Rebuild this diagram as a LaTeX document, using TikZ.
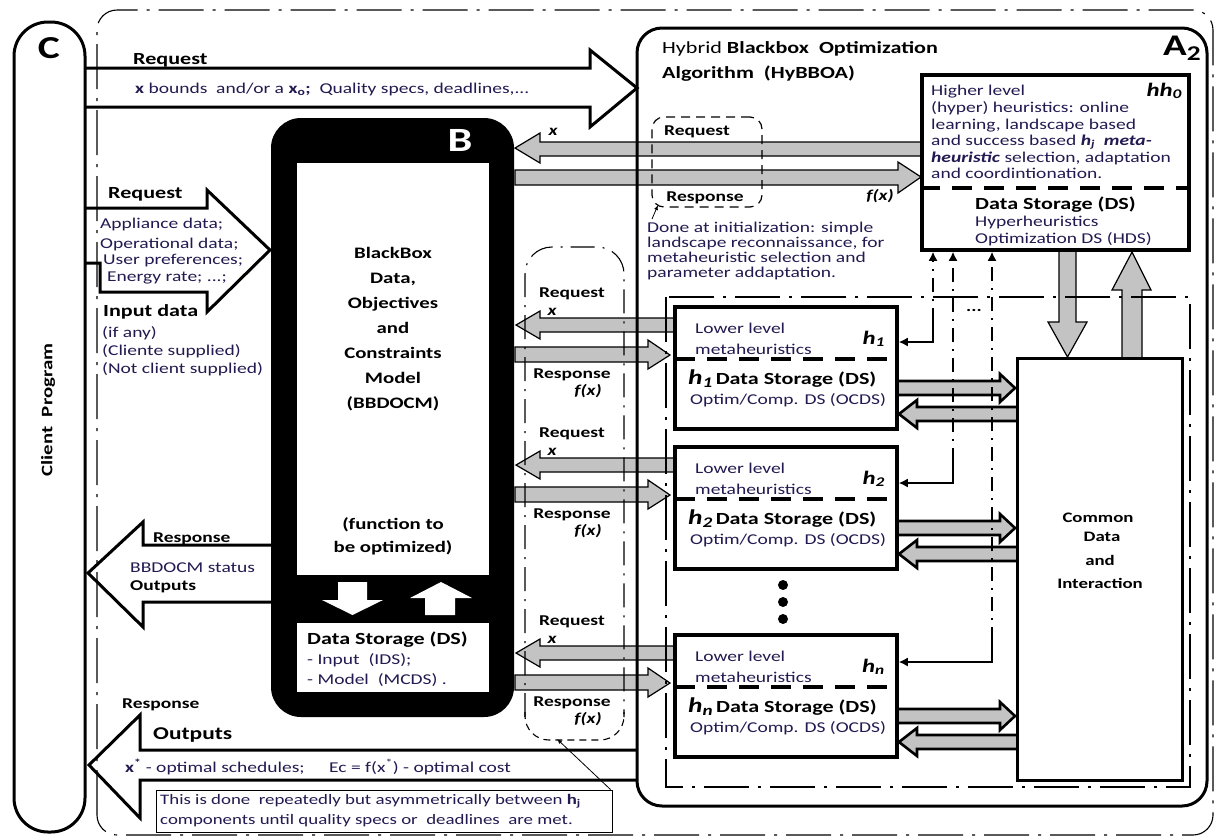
\documentclass[tikz,border=0pt]{standalone}
\usepackage{fontspec}
\setmainfont{Carlito}[FakeStretch=1.3]
\usetikzlibrary{arrows.meta}
\definecolor{ink}{HTML}{221A50}
\definecolor{blockgray}{HTML}{C3C3C3}
\newcommand\fsz[2]{\fontsize{#1}{#2}\selectfont}
\tikzset{
  txt/.style={inner sep=0pt, anchor=base west, text=ink, font=\fsz{15}{17}},
  btxt/.style={inner sep=0pt, anchor=base west, text=black, font=\bfseries\fsz{17}{19}},
  smb/.style={inner sep=0pt, anchor=base west, text=black, font=\bfseries\fsz{15}{17}},
  blbl/.style={inner sep=0pt, anchor=base, text=black, font=\bfseries\fsz{15}{17}},
  ilbl/.style={inner sep=0pt, anchor=base, text=black, font=\bfseries\itshape\fsz{15}{17}},
  ctxt/.style={inner sep=0pt, anchor=base, text=black, font=\bfseries\fsz{16}{18}},
  hollow/.style={draw=black, line width=3pt, line join=miter},
  grayarrow/.style={draw=black, line width=1.2pt, fill=blockgray, line join=miter},
  dblarrow/.style={draw=black, line width=2.6pt, fill=blockgray, line join=miter},
  heavybox/.style={draw=black, line width=3.5pt, inner sep=0pt, minimum width=222pt, minimum height=122pt},
  sepline/.style={line width=4pt, dash pattern=on 20pt off 12pt},
  framedd/.style={line width=1.1pt, dash pattern=on 45pt off 9pt on 3pt off 9pt},
  coldd/.style={line width=1.1pt, dash pattern=on 24pt off 8pt on 2pt off 8pt},
  linkdd/.style={line width=1.6pt, dash pattern=on 14pt off 7pt on 2pt off 7pt},
  linktip/.style={-{Latex[length=9pt,width=9pt]}},
  pointer/.style={line width=0.8pt, -{Latex[length=5pt,width=4pt]}},
}
\begin{document}
\begin{tikzpicture}[x=1pt,y=-1pt]
\useasboundingbox (0,0) rectangle (1214,836);
\fill[white] (0,0) rectangle (1214,836);

% ---------- outer dash-dotted frame ----------
\draw[framedd, rounded corners=20pt] (97,835) -- (97,10) -- (1213,10) -- (1213,835) -- cycle;

% ---------- client program ----------
\node[draw, line width=3pt, rounded corners=34pt, minimum width=71pt, minimum height=810pt, inner sep=0pt] (cbox) at (49.5,427) {};
\node[inner sep=0pt, font=\bfseries\fsz{32}{32}] (cletter) at (49,48) {C};
\node[inner sep=0pt, rotate=90, font=\bfseries\fsz{16}{16}] (client) at (48,410) {Client\ \ Program};

% ---------- hollow request / response arrows ----------
\draw[hollow] (85,68) -- (590,68) -- (590,50) -- (637,88) -- (590,127) -- (590,107) -- (85,107);
\node[btxt] (rq0) at (133,64) {Request};
\node[txt] (rq0t) at (135,93) {\textbf{x} bounds\ \ and/or a \textbf{x\textsubscript{o};}\ \ Quality specs, deadlines,...};

\draw[hollow] (85,208) -- (207,208) -- (207,190) -- (270,250) -- (207,312) -- (207,292) -- (100,292) -- (100,263) -- (85,263);
\node[btxt] (rq1) at (108,198) {Request};
\node[txt] (in1) at (100,228) {Appliance data;};
\node[txt] (in2) at (100,248) {Operational data;};
\node[txt] (in3) at (103,264) {User preferences;};
\node[txt] (in4) at (107,281) {Energy rate; ...;};
\node[btxt] (indata) at (103,316) {Input data};
\node[txt] (in5) at (102,337) {(if any)};
\node[txt] (in6) at (102,355) {(Cliente supplied)};
\node[txt] (in7) at (102,373) {(Not client supplied)};

\draw[hollow] (271,545) -- (143,545) -- (143,522) -- (88,573) -- (143,627) -- (143,602) -- (271,602);
\node[smb] (rs1) at (153,542) {Response};
\node[txt] (rs1a) at (130,572) {BBDOCM status};
\node[smb] (rs1b) at (130,590) {Outputs};

\draw[hollow] (637,750) -- (140,750) -- (140,715) -- (89,765) -- (140,818) -- (140,780) -- (637,780);
\node[smb] (rs2) at (122,708) {Response};
\node[inner sep=0pt, anchor=base west, font=\bfseries\fsz{18}{20}] (outs) at (153,739) {Outputs};
\node[txt] (xstar) at (125,772) {\textbf{x\textsuperscript{*}} - optimal schedules;};
\node[txt] (ecost) at (329,772) {Ec = f(x\textsuperscript{*}) - optimal cost};

\node[draw, line width=1pt, minimum width=456pt, minimum height=42pt, inner sep=0pt] (note) at (384,811) {};
\node[txt, font=\fsz{14.5}{16}] (note1) at (160,804) {This is done\ \ repeatedly but asymmetrically between \textbf{h\textsubscript{j}}};
\node[txt, font=\fsz{14.5}{16}] (note2) at (160,824) {components until quality specs or\ \ deadlines\ \ are met.};

% ---------- black-box model B ----------
\node[fill=black, rounded corners=30pt, minimum width=243pt, minimum height=599pt, inner sep=0pt] (bbox) at (392.5,417.5) {};
\node[fill=white, minimum width=192pt, minimum height=412pt, inner sep=0pt] (model) at (393,369) {};
\node[fill=white, minimum width=192pt, minimum height=69pt, inner sep=0pt] (bds) at (393,657.5) {};
\node[inner sep=0pt, text=white, font=\bfseries\fsz{34}{34}] (bletter) at (460,140) {B};
\fill[white] (338,582) -- (367,582) -- (367,600) -- (383,600) -- (352.5,615) -- (322,600) -- (338,600) -- cycle;
\fill[white] (441,582) -- (472,598) -- (455,598) -- (455,615) -- (425,615) -- (425,598) -- (410,598) -- cycle;
\node[ctxt] (m1) at (393,258) {BlackBox};
\node[ctxt] (m2) at (393,283) {Data,};
\node[ctxt] (m3) at (393,308) {Objectives};
\node[ctxt] (m4) at (393,333) {and};
\node[ctxt] (m5) at (393,358) {Constraints};
\node[ctxt] (m6) at (393,383) {Model};
\node[ctxt] (m7) at (393,408) {(BBDOCM)};
\node[ctxt] (m8) at (393,529) {(function to};
\node[ctxt] (m9) at (393,552) {be optimized)};
\node[btxt] (bds1) at (307,644) {Data Storage (DS)};
\node[txt] (bds2) at (307,664) {- Input\ \ (IDS);};
\node[txt] (bds3) at (307,684) {- Model\ \ (MCDS) .};

% ---------- grey request / response arrows ----------
\draw[grayarrow] (922,142) -- (540,142) -- (540,133) -- (515,148) -- (540,163) -- (540,156) -- (922,156) -- cycle;
\draw[grayarrow] (515,170) -- (898,170) -- (898,162) -- (921,177) -- (898,193) -- (898,185) -- (515,185) -- cycle;
\foreach \T in {307,447,635} {
  \draw[grayarrow] (675,\T+11) -- (540,\T+11) -- (540,\T+4) -- (516,\T+18) -- (540,\T+32) -- (540,\T+25) -- (675,\T+25) -- cycle;
  \draw[grayarrow] (515,\T+40) -- (648,\T+40) -- (648,\T+33) -- (670,\T+48) -- (648,\T+62) -- (648,\T+55) -- (515,\T+55) -- cycle;
  \draw[dblarrow] (897,\T+74) -- (1000,\T+74) -- (1000,\T+67) -- (1015,\T+81) -- (1000,\T+95) -- (1000,\T+88) -- (897,\T+88);
  \draw[dblarrow] (1017,\T+100) -- (917,\T+100) -- (917,\T+93) -- (899,\T+107) -- (917,\T+121) -- (917,\T+114) -- (1017,\T+114);
}
% hh0 <-> common data
\draw[grayarrow] (1059,250) -- (1059,322) -- (1048,322) -- (1067.5,357) -- (1087,322) -- (1076,322) -- (1076,250);
\draw[grayarrow] (1122,358) -- (1122,290) -- (1112,290) -- (1132,252) -- (1151,290) -- (1142,290) -- (1142,358);

% ---------- algorithm A2 frame ----------
\node[draw, line width=3pt, rounded corners=25pt, minimum width=570pt, minimum height=778pt, inner sep=0pt] (a2) at (922,417) {};
\node[inner sep=0pt, anchor=base west, font=\fsz{17}{19}] (hyb1) at (662,53) {Hybrid \textbf{Blackbox\ \ Optimization}};
\node[btxt] (hyb2) at (662,78) {Algorithm\ \ (HyBBOA)};
\node[inner sep=0pt, anchor=base west, font=\bfseries\fsz{30}{30}] (a2lbl) at (1163,55) {A\textsubscript{2}};

% column of request/response exchanges
\draw[coldd, rounded corners=27pt] (525,717) -- (525,247) -- (624,247) -- (624,717);
\draw[line width=1.1pt, dash pattern=on 7pt off 5pt, rounded corners=24pt] (525,712) -- (525,740) -- (624,740) -- (624,712);
\coordinate (colbot) at (557,739);

% lower level region
\draw[framedd] (666,297) rectangle (1190,787);

% initialization exchange
\node[draw, line width=1.2pt, dash pattern=on 9pt off 6pt, rounded corners=12pt, minimum width=110pt, minimum height=90pt, inner sep=0pt] (reqbox) at (707,162) {};
\node[blbl] (rqb1) at (697,135) {Request};
\node[blbl] (rqb2) at (705,201) {Response};
\node[ilbl] (xl0) at (553,135) {x};
\node[ilbl] (fx0) at (880,200) {f(x)};
\node[txt] (done1) at (647,232) {Done at initialization: simple};
\node[txt] (done2) at (647,247) {landscape reconnaissance, for};
\node[txt] (done3) at (647,262) {metaheuristic selection and};
\node[txt] (done4) at (647,277) {parameter addaptation.};
\coordinate (donept) at (652,219);
\coordinate (reqcorner) at (658,205);
\draw[pointer] (donept) -- (reqcorner);

% ---------- hyper-heuristic hh0 ----------
\node[heavybox, minimum width=267pt, minimum height=175pt] (hh0) at (1055.5,162.5) {};
\draw[sepline] (hh0.west |- 0,188) -- (hh0.east |- 0,188);
\node[inner sep=0pt, anchor=base east, font=\bfseries\itshape\fsz{19}{19}] (hh0lbl) at (1182,96) {hh\textsubscript{0}};
\node[txt] (hh1) at (931,95) {Higher level};
\node[txt] (hh2) at (931,112) {(hyper) heuristics: online};
\node[txt] (hh3) at (931,129) {learning, landscape based};
\node[txt] (hh4) at (931,145) {and success based \textbf{\textit{h\textsubscript{j}\ \ meta-}}};
\node[txt] (hh5) at (931,162) {\textbf{\textit{heuristic}} selection, adaptation};
\node[txt] (hh6) at (931,178) {and coordintionation.};
\node[btxt] (hds1) at (975,209) {Data Storage (DS)};
\node[txt] (hds2) at (975,226) {Hyperheuristics};
\node[txt] (hds3) at (975,243) {Optimization DS (HDS)};

% ---------- lower level metaheuristics ----------
\foreach \T/\s/\nm in {307/1/h1, 447/2/h2, 635/n/hn} {
  \node[heavybox] (box\nm) at (786,\T+61) {};
  \draw[sepline] (675,\T+52) -- (897,\T+52);
  \node[txt] (low\nm) at (695,\T+26) {Lower level};
  \node[txt] (meta\nm) at (695,\T+47) {metaheuristics};
  \node[inner sep=0pt, anchor=base east, font=\bfseries\itshape\fsz{19}{19}] (lbl\nm) at (885,\T+37) {h\textsubscript{\s}};
  \node[inner sep=0pt, anchor=base west] (ds\nm) at (688,\T+77) {{\bfseries\itshape\fsz{21}{21}h\textsubscript{\s}}\hspace{3pt}{\bfseries\fsz{17}{19}Data Storage (DS)}};
  \node[txt] (oc\nm) at (690,\T+97) {Optim/Comp. DS (OCDS)};
  \node[blbl] (rq\nm) at (572,\T-10) {Request};
  \node[ilbl] (x\nm) at (552,\T+8) {x};
  \node[blbl] (rp\nm) at (572,\T+71) {Response};
  \node[ilbl] (f\nm) at (588,\T+88) {f(x)};
}
\foreach \i in {1,2,3} \node[circle, fill=black, inner sep=0pt, minimum size=10pt] (dot\i) at (783,568+17*\i) {};

% links between hh0 and each metaheuristic
\coordinate (lk1) at (933,342); \coordinate (lk1t) at (933,322);
\coordinate (lk2) at (953,483); \coordinate (lk2t) at (953,462);
\coordinate (lk3) at (992,662); \coordinate (lk3t) at (992,641);
\draw[linkdd, linktip] (lk1t) -- (lk1t |- hh0.south);
\draw[linkdd, linktip] (lk2t) -- (lk2t |- hh0.south);
\draw[linkdd, linktip] (lk3t) -- (lk3t |- hh0.south);
\draw[line width=1.6pt, linktip] (lk1t) -- (lk1) -- (lk1 -| boxh1.east);
\draw[line width=1.6pt, linktip] (lk2t) -- (lk2) -- (lk2 -| boxh2.east);
\draw[line width=1.6pt, linktip] (lk3t) -- (lk3) -- (lk3 -| boxhn.east);
\node[inner sep=0pt, font=\bfseries\fsz{15}{15}] (ellip) at (974,310) {...};

% ---------- common data ----------
\node[draw, line width=3pt, minimum width=165pt, minimum height=422pt, inner sep=0pt] (common) at (1099.5,569) {};
\node[inner sep=0pt, anchor=base, font=\bfseries\fsz{14.5}{16}] (cm1) at (1098,522) {Common};
\node[inner sep=0pt, anchor=base, font=\bfseries\fsz{14.5}{16}] (cm2) at (1102,541) {Data};
\node[inner sep=0pt, anchor=base, font=\bfseries\fsz{14.5}{16}] (cm3) at (1100,565) {and};
\node[inner sep=0pt, anchor=base, font=\bfseries\fsz{14.5}{16}] (cm4) at (1100,588) {Interaction};

% note pointer
\draw[pointer] ([xshift=-2pt]note.north east) -- (colbot);
\end{tikzpicture}
\end{document}
